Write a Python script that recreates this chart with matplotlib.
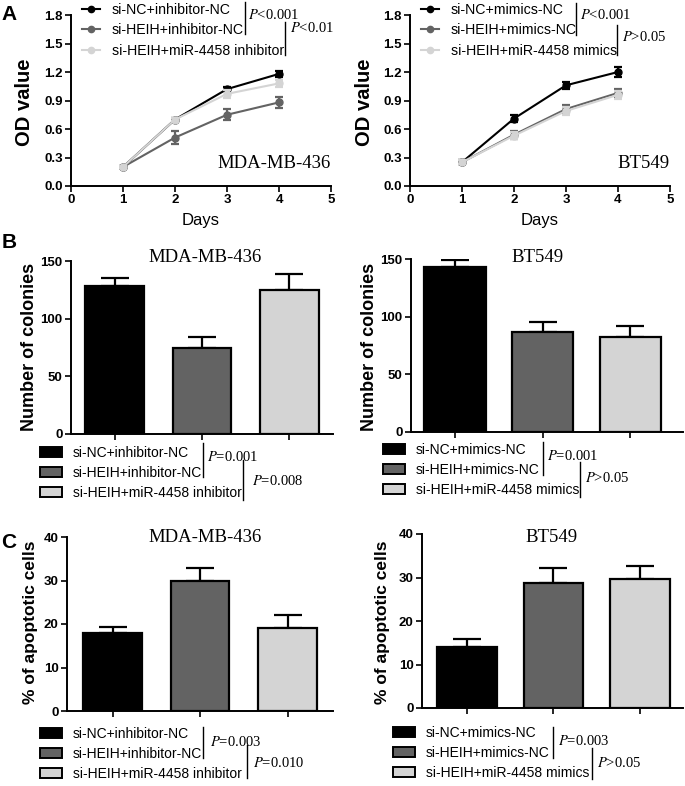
import numpy as np
import matplotlib
matplotlib.use('Agg')
import matplotlib.pyplot as plt
from matplotlib.lines import Line2D
from matplotlib.patches import Patch

plt.rcParams['font.family'] = ['Liberation Sans', 'DejaVu Sans']
plt.rcParams['mathtext.fontset'] = 'stix'

W, H = 685, 786

# ---- data ----
days = [1, 2, 3, 4]
od_mda_nc = [0.20, 0.70, 1.02, 1.18]
od_mda_nc_err = [0.01, 0.02, 0.02, 0.03]
od_mda_heih = [0.20, 0.51, 0.75, 0.88]
od_mda_heih_err = [0.01, 0.07, 0.06, 0.06]
od_mda_inh = [0.20, 0.70, 0.97, 1.08]
od_mda_inh_err = [0.01, 0.02, 0.04, 0.04]

od_bt_nc = [0.25, 0.71, 1.06, 1.20]
od_bt_nc_err = [0.02, 0.04, 0.04, 0.05]
od_bt_heih = [0.25, 0.54, 0.81, 0.98]
od_bt_heih_err = [0.02, 0.04, 0.04, 0.04]
od_bt_mim = [0.25, 0.53, 0.79, 0.96]
od_bt_mim_err = [0.02, 0.04, 0.04, 0.04]

col_mda = [128, 75, 125]
col_mda_err = [7, 9, 14]
col_bt = [143, 87, 82]
col_bt_err = [6, 8, 10]

apo_mda = [18, 30, 19]
apo_mda_err = [1.4, 2.8, 3.0]
apo_bt = [14, 28.8, 29.7]
apo_bt_err = [1.9, 3.4, 3.0]

labels_inh = ['si-NC+inhibitor-NC', 'si-HEIH+inhibitor-NC', 'si-HEIH+miR-4458 inhibitor']
labels_mim = ['si-NC+mimics-NC', 'si-HEIH+mimics-NC', 'si-HEIH+miR-4458 mimics']
colors = ['#000000', '#636363', '#d4d4d4']


def fx(x):
    return x / W


def fy(y):
    return 1 - y / H


def add_ax(x0, y0, x1, y1):
    return fig.add_axes([fx(x0), fy(y1), fx(x1 - x0), (y1 - y0) / H])


def style(ax):
    for s in ['top', 'right']:
        ax.spines[s].set_visible(False)
    for s in ['left', 'bottom']:
        ax.spines[s].set_linewidth(1.4)
    ax.tick_params(width=1.2, length=4, labelsize=9.5, pad=2)
    for t in ax.get_xticklabels() + ax.get_yticklabels():
        t.set_fontweight('bold')


def bracket(x, y0, y1, tx, ty, txt):
    fig.add_artist(Line2D([fx(x), fx(x)], [fy(y0), fy(y1)], color='black', lw=1.0))
    fig.text(fx(tx), fy(ty), txt, family='Liberation Serif', fontsize=10.5, va='center', ha='left')


fig = plt.figure(figsize=(W / 100, H / 100), dpi=100)

# ---- A: growth curves ----
def growth(ax, series, errs, labels, title, leg_x):
    for y, e, c, lab in zip(series, errs, colors, labels):
        ax.plot(days, y, color=c, lw=1.5, marker='o', ms=5, label=lab)
        ax.errorbar(days, y, yerr=e, fmt='none', ecolor=c, elinewidth=1.6, capsize=3, capthick=1.6)
    ax.set_xlim(0, 5)
    ax.set_ylim(0, 1.8)
    ax.set_xticks(range(6))
    ax.set_yticks(np.arange(0, 1.81, 0.3))
    ax.set_yticklabels(['%.1f' % v for v in np.arange(0, 1.81, 0.3)])
    ax.set_xlabel('Days', fontsize=12, labelpad=5)
    style(ax)
    ax.text(1.0, 0.08, title, family='Liberation Serif', fontsize=13.5, ha='right', va='bottom',
            transform=ax.transAxes)
    ax.legend(loc='upper left', bbox_to_anchor=(fx(leg_x), fy(3)), bbox_transform=fig.transFigure,
              frameon=False, fontsize=10.2, borderpad=0, borderaxespad=0, handlelength=1.3,
              handletextpad=0.8, labelspacing=0.45, markerscale=0.9)


axA1 = add_ax(71, 15, 331, 186)
growth(axA1, [od_mda_nc, od_mda_heih, od_mda_inh], [od_mda_nc_err, od_mda_heih_err, od_mda_inh_err],
       labels_inh, 'MDA-MB-436', 82)
axA2 = add_ax(410, 15, 670, 186)
growth(axA2, [od_bt_nc, od_bt_heih, od_bt_mim], [od_bt_nc_err, od_bt_heih_err, od_bt_mim_err],
       labels_mim, 'BT549', 421)
for ax, xc in [(axA1, 25), (axA2, 364)]:
    fig.text(fx(xc), fy(102), 'OD value', rotation=90, fontsize=14.5, fontweight='bold', ha='center', va='center')

bracket(245, 2, 34, 248, 15, r'$P$<0.001')
bracket(285, 22, 55, 290, 28, r'$P$<0.01')
bracket(576, 3, 35, 580, 15, r'$P$<0.001')
bracket(617, 25, 55, 622, 37, r'$P$>0.05')


# ---- B, C: bar charts ----
def bars(ax, vals, errs, xlim, width, ylim, yticks, title, title_xy):
    x = np.arange(3)
    ax.bar(x, vals, width=width, color=colors, edgecolor='black', linewidth=1.6, zorder=2)
    ax.errorbar(x, vals, yerr=[np.zeros(3), errs], fmt='none', ecolor='black', elinewidth=1.6,
                capsize=10, capthick=1.6, zorder=1)
    ax.set_xlim(*xlim)
    ax.set_ylim(*ylim)
    ax.set_xticks(x)
    ax.set_xticklabels(['', '', ''])
    ax.set_yticks(yticks)
    style(ax)
    fig.text(fx(title_xy[0]), fy(title_xy[1]), title, family='Liberation Serif', fontsize=13.5,
             ha='center', va='center')


def bar_legend(labels, x0, y0):
    handles = [Patch(facecolor=c, edgecolor='black', linewidth=1.4) for c in colors]
    fig.legend(handles, labels, loc='upper left', bbox_to_anchor=(fx(x0), fy(y0)),
               frameon=False, fontsize=10, borderpad=0, borderaxespad=0, handlelength=1.6,
               handleheight=0.75, handletextpad=0.75, labelspacing=0.42)


axB1 = add_ax(71, 261, 333, 434)
bars(axB1, col_mda, col_mda_err, (-0.5, 2.5), 0.67, (0, 150), [0, 50, 100, 150], 'MDA-MB-436', (205, 258))
axB2 = add_ax(411, 259, 683, 432)
bars(axB2, col_bt, col_bt_err, (-0.5, 2.6), 0.7, (0, 150), [0, 50, 100, 150], 'BT549', (538, 258))
for xc in [30, 369]:
    fig.text(fx(xc), fy(347), 'Number of colonies', rotation=90, fontsize=13, fontweight='bold',
             ha='center', va='center')
bar_legend(labels_inh, 40, 446)
bar_legend(labels_mim, 383, 443)
bracket(203, 443, 477, 207, 457, r'$P$=0.001')
bracket(243, 460, 500, 252, 481, r'$P$=0.008')
bracket(543, 442, 475, 547, 456, r'$P$=0.001')
bracket(580, 462, 497, 585, 478, r'$P$>0.05')

axC1 = add_ax(67, 537, 333, 711)
bars(axC1, apo_mda, apo_mda_err, (-0.52, 2.52), 0.67, (0, 40), [0, 10, 20, 30, 40], 'MDA-MB-436', (205, 538))
axC2 = add_ax(422, 534, 683, 708)
bars(axC2, apo_bt, apo_bt_err, (-0.52, 2.5), 0.69, (0, 40), [0, 10, 20, 30, 40], 'BT549', (552, 537))
for xc in [31, 383]:
    fig.text(fx(xc), fy(622), '% of apoptotic cells', rotation=90, fontsize=12.5, fontweight='bold',
             ha='center', va='center')
bar_legend(labels_inh, 40, 727)
bar_legend(labels_mim, 393, 726)
bracket(203, 727, 758, 210, 742, r'$P$=0.003')
bracket(247, 745, 778, 253, 763, r'$P$=0.010')
bracket(553, 727, 758, 558, 741, r'$P$=0.003')
bracket(592, 748, 779, 597, 763, r'$P$>0.05')

# panel letters
for lab, y in [('A', 15), ('B', 243), ('C', 543)]:
    fig.text(fx(9), fy(y), lab, fontsize=15, fontweight='bold', ha='center', va='center')

fig.savefig('out.png', dpi=100)
